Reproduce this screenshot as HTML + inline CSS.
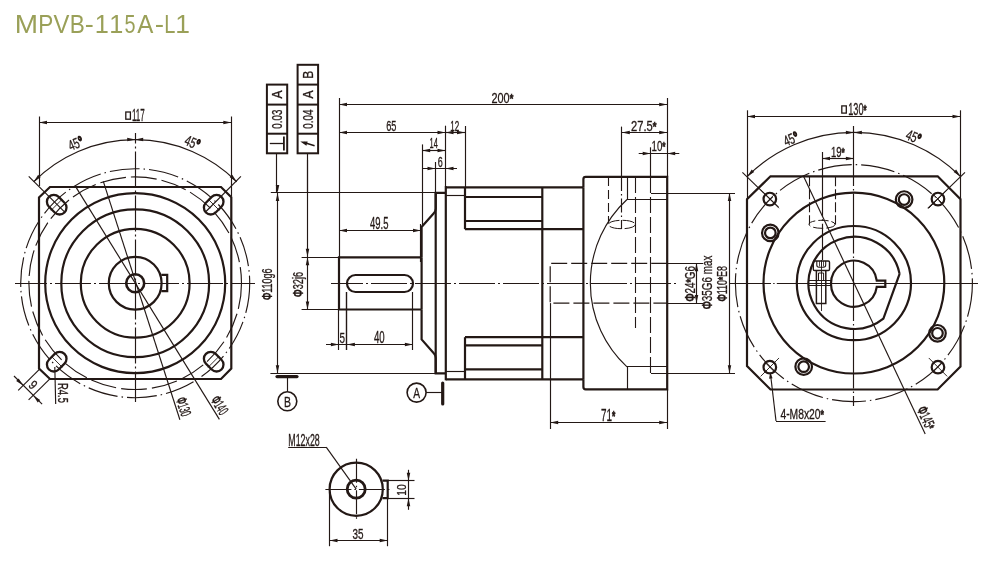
<!DOCTYPE html>
<html><head><meta charset="utf-8"><style>
html,body{margin:0;padding:0;background:#fff;}
svg{display:block;will-change:transform;}
text{font-family:"Liberation Sans",sans-serif;fill:#231815;stroke:#231815;stroke-width:0.3px;}
</style></head><body>
<svg width="999" height="577" viewBox="0 0 999 577" stroke="#231815" fill="none">
<rect width="999" height="577" fill="#fff" stroke="none"/>
<g><text transform="translate(17.1,32.7) scale(1.092,1)" x="-2.1" y="0" font-size="25.6" style="fill:#9aa058;stroke:none">M</text><text transform="translate(40,32.7) scale(0.881,1)" x="-2.1" y="0" font-size="25.6" style="fill:#9aa058;stroke:none">P</text><text transform="translate(53.5,32.7) scale(0.932,1)" x="-0.11" y="0" font-size="25.6" style="fill:#9aa058;stroke:none">V</text><text transform="translate(71.6,32.7) scale(0.881,1)" x="-2.1" y="0" font-size="25.6" style="fill:#9aa058;stroke:none">B</text><text transform="translate(86,32.7) scale(1.056,1)" x="-1.14" y="0" font-size="25.6" style="fill:#9aa058;stroke:none">-</text><text transform="translate(96.8,32.7) scale(0.988,1)" x="-1.95" y="0" font-size="25.6" style="fill:#9aa058;stroke:none">1</text><text transform="translate(111.3,32.7) scale(0.988,1)" x="-1.95" y="0" font-size="25.6" style="fill:#9aa058;stroke:none">1</text><text transform="translate(125.3,32.7) scale(0.774,1)" x="-1.03" y="0" font-size="25.6" style="fill:#9aa058;stroke:none">5</text><text transform="translate(137.3,32.7) scale(0.943,1)" x="-0.05" y="0" font-size="25.6" style="fill:#9aa058;stroke:none">A</text><text transform="translate(155.9,32.7) scale(1.088,1)" x="-1.14" y="0" font-size="25.6" style="fill:#9aa058;stroke:none">-</text><text transform="translate(165.9,32.7) scale(0.780,1)" x="-2.1" y="0" font-size="25.6" style="fill:#9aa058;stroke:none">L</text><text transform="translate(177.3,32.7) scale(1.033,1)" x="-1.95" y="0" font-size="25.6" style="fill:#9aa058;stroke:none">1</text></g>
<path d="M50,187 H221 L231.3,197.3 V368.5 L221,379 H50 L39,368.5 V197.5 Z" stroke-width="2.2" fill="none"/>
<circle cx="135.2" cy="283.2" r="90" stroke-width="2.2" fill="none"/>
<circle cx="135.2" cy="283.2" r="73.9" stroke-width="2.2" fill="none"/>
<circle cx="135.2" cy="283.2" r="54.4" stroke-width="2.2" fill="none"/>
<circle cx="135.2" cy="283.2" r="26.4" stroke-width="2.2" fill="none"/>
<circle cx="135.2" cy="283.2" r="9" stroke-width="2.6" fill="none"/>
<path d="M161.3,274.8 H167.2 V291.2 H161.3" stroke-width="2.2" fill="none"/>
<circle cx="135.2" cy="283.2" r="114.5" stroke-width="1.15" fill="none" stroke-dasharray="30 4 1.5 4"/>
<circle cx="135.2" cy="283.2" r="106.3" stroke-width="1.15" fill="none" stroke-dasharray="26 5"/>
<rect x="-11" y="-6.9" width="22" height="13.8" rx="6.9" fill="none" stroke-width="2.3" transform="translate(213.69,361.69) rotate(45)"/>
<line x1="208.03" y1="367.35" x2="219.35" y2="356.03" stroke-width="0.9"/>
<rect x="-11" y="-6.9" width="22" height="13.8" rx="6.9" fill="none" stroke-width="2.3" transform="translate(56.71,361.69) rotate(135)"/>
<line x1="51.05" y1="356.03" x2="62.37" y2="367.35" stroke-width="0.9"/>
<rect x="-11" y="-6.9" width="22" height="13.8" rx="6.9" fill="none" stroke-width="2.3" transform="translate(56.71,204.71) rotate(225)"/>
<line x1="62.37" y1="199.05" x2="51.05" y2="210.37" stroke-width="0.9"/>
<rect x="-11" y="-6.9" width="22" height="13.8" rx="6.9" fill="none" stroke-width="2.3" transform="translate(213.69,204.71) rotate(315)"/>
<line x1="219.35" y1="210.37" x2="208.03" y2="199.05" stroke-width="0.9"/>
<line x1="15" y1="283.5" x2="255" y2="283.5" stroke-width="1.15" stroke-dasharray="36 3 2 3" stroke-dashoffset="4"/>
<line x1="135.5" y1="133" x2="135.5" y2="402" stroke-width="1.15" stroke-dasharray="36 3 2 3" stroke-dashoffset="25.6"/>
<line x1="75.2" y1="185.9" x2="219.4" y2="419.4" stroke-width="1.15"/>
<line x1="103.3" y1="181.4" x2="179.9" y2="419.8" stroke-width="1.15"/>
<text transform="translate(219.7,405.3) rotate(58.3)" x="-9.5" y="5.15" font-size="15.25" textLength="19" lengthAdjust="spacingAndGlyphs"><tspan font-weight="bold">Φ</tspan>140</text>
<text transform="translate(183.5,406.7) rotate(72.2)" x="-9.5" y="5.15" font-size="15.25" textLength="19" lengthAdjust="spacingAndGlyphs"><tspan font-weight="bold">Φ</tspan>130</text>
<line x1="39.5" y1="116.5" x2="39.5" y2="186" stroke-width="1.15"/>
<line x1="231.5" y1="116.5" x2="231.5" y2="196" stroke-width="1.15"/>
<line x1="39" y1="122.5" x2="231.3" y2="122.5" stroke-width="1.15"/>
<path d="M39,122.5 L47,120.75 L47,124.25 Z" fill="#231815" stroke="none"/>
<path d="M231.3,122.5 L223.3,124.25 L223.3,120.75 Z" fill="#231815" stroke="none"/>
<rect x="125.8" y="112" width="4.6" height="7.2" fill="none" stroke-width="1.3"/>
<text transform="translate(138.4,115.5)" x="-6.4" y="5.3" font-size="15.69" textLength="12.8" lengthAdjust="spacingAndGlyphs">117</text>
<path d="M33.73,181.73 A143.5,143.5 0 0 1 236.67,181.73" stroke-width="1.15" fill="none"/>
<path d="M135.2,139.5 L127.2,141.25 L127.2,137.75 Z" fill="#231815" stroke="none"/>
<path d="M135.2,139.5 L143.2,137.75 L143.2,141.25 Z" fill="#231815" stroke="none"/>
<path d="M236.67,181.73 L229.78,177.31 L232.25,174.84 Z" fill="#231815" stroke="none"/>
<path d="M33.73,181.73 L38.15,174.84 L40.62,177.31 Z" fill="#231815" stroke="none"/>
<line x1="206" y1="211.5" x2="240.9" y2="176.3" stroke-width="1.15"/>
<line x1="64.5" y1="211.9" x2="28.7" y2="176.3" stroke-width="1.15"/>
<text transform="translate(75.7,143.6) rotate(-22.5)" x="-7.5" y="5" font-size="14.8" textLength="15" lengthAdjust="spacingAndGlyphs">45<tspan font-weight="bold" style="stroke-width:1.4px">°</tspan></text>
<text transform="translate(192.3,142.6) rotate(22.5)" x="-7.5" y="5" font-size="14.8" textLength="15" lengthAdjust="spacingAndGlyphs">45<tspan font-weight="bold" style="stroke-width:1.4px">°</tspan></text>
<line x1="39.6" y1="369.2" x2="18.2" y2="390.4" stroke-width="1.15"/>
<line x1="49.6" y1="379.2" x2="28.6" y2="399.9" stroke-width="1.15"/>
<line x1="14" y1="376" x2="42.1" y2="404.1" stroke-width="1.15"/>
<path d="M23.1,385.4 L16.21,380.98 L18.68,378.51 Z" fill="#231815" stroke="none"/>
<path d="M33.3,395.5 L40.19,399.92 L37.72,402.39 Z" fill="#231815" stroke="none"/>
<text transform="translate(33,385) rotate(45)" x="-3" y="4.5" font-size="13.32" textLength="6" lengthAdjust="spacingAndGlyphs">9</text>
<line x1="54.8" y1="367" x2="55.7" y2="404" stroke-width="1.15"/>
<text transform="translate(62.5,393) rotate(90)" x="-10" y="5" font-size="14.8" textLength="20" lengthAdjust="spacingAndGlyphs">R4.5</text>
<path d="M421.6,257.3 H339 V309.5 H421.6" stroke-width="2.2" fill="none"/>
<rect x="347" y="275" width="66" height="17" rx="8.5" fill="none" stroke-width="2.2"/>
<line x1="331" y1="283.5" x2="676" y2="283.5" stroke-width="1.15" stroke-dasharray="36 3 2 3" stroke-dashoffset="4"/>
<path d="M421.6,257.3 V227 L433.8,213.2 Q435.7,211.2 435.7,208.5 V192.9 H445.8" stroke-width="2.2" fill="none"/>
<line x1="420.5" y1="224" x2="420.5" y2="262" stroke-width="1.15"/>
<line x1="421.6" y1="257.3" x2="421.6" y2="309.5" stroke-width="2.2"/>
<path d="M421.6,309.5 V339.4 L433.8,353.2 Q435.7,355.2 435.7,357.9 V373.4 H445.8" stroke-width="2.2" fill="none"/>
<line x1="435.7" y1="192.9" x2="435.7" y2="373.4" stroke-width="2.2"/>
<line x1="445.8" y1="186.2" x2="445.8" y2="380.3" stroke-width="2.2"/>
<line x1="445.8" y1="187.3" x2="583.4" y2="187.3" stroke-width="2.2"/>
<line x1="445.8" y1="379.3" x2="583.4" y2="379.3" stroke-width="2.2"/>
<line x1="445.8" y1="195.5" x2="465" y2="195.5" stroke-width="1.15"/>
<line x1="445.8" y1="371.5" x2="465" y2="371.5" stroke-width="1.15"/>
<line x1="465" y1="187.3" x2="465" y2="229.2" stroke-width="2.2"/>
<line x1="465" y1="337.2" x2="465" y2="379.3" stroke-width="2.2"/>
<line x1="465" y1="229.2" x2="583.4" y2="229.2" stroke-width="2.2"/>
<line x1="465" y1="337.2" x2="583.4" y2="337.2" stroke-width="2.2"/>
<line x1="465" y1="197" x2="542.3" y2="197" stroke-width="2.2"/>
<line x1="465" y1="221" x2="542.3" y2="221" stroke-width="2.2"/>
<line x1="465" y1="345.3" x2="542.3" y2="345.3" stroke-width="2.2"/>
<line x1="465" y1="369.4" x2="542.3" y2="369.4" stroke-width="2.2"/>
<line x1="542.3" y1="187.3" x2="542.3" y2="379.3" stroke-width="2.2"/>
<path d="M583.4,379.3 V387 Q583.4,389.3 585.7,389.3 H667.2 V176.8 H585.7 Q583.4,176.8 583.4,179.1 V187.3" stroke-width="2.2" fill="none"/>
<line x1="583.4" y1="187.3" x2="583.4" y2="379.3" stroke-width="2.2"/>
<path d="M627,199.5 A113.9,113.9 0 0 0 627,366.9" stroke-width="1.15" fill="none"/>
<line x1="627.5" y1="176.8" x2="627.5" y2="199.5" stroke-width="1.15"/>
<line x1="627.5" y1="366.9" x2="627.5" y2="389.3" stroke-width="1.15"/>
<line x1="627" y1="199.5" x2="667.2" y2="199.5" stroke-width="1.15"/>
<line x1="627" y1="366.5" x2="667.2" y2="366.5" stroke-width="1.15"/>
<line x1="608.5" y1="177" x2="608.5" y2="223" stroke-width="1.1" stroke-dasharray="9 4"/>
<line x1="635.5" y1="177" x2="635.5" y2="328" stroke-width="1.1" stroke-dasharray="16 4"/>
<line x1="650.5" y1="177" x2="650.5" y2="373.2" stroke-width="1.1" stroke-dasharray="16 4"/>
<line x1="621.5" y1="126.6" x2="621.5" y2="177" stroke-width="1.15"/>
<line x1="621.5" y1="177" x2="621.5" y2="229" stroke-width="1.15" stroke-dasharray="14 3 1.5 3"/>
<ellipse cx="621.8" cy="224.5" rx="13.5" ry="4.2" stroke-width="1.0" fill="none" stroke-dasharray="12 3"/>
<path d="M667.2,263.3 H550.2 V303.1 H667.2" stroke-width="1.2" fill="none" stroke-dasharray="16 4"/>
<line x1="667.2" y1="263.5" x2="703.3" y2="263.5" stroke-width="1.15"/>
<line x1="667.2" y1="303.5" x2="703.3" y2="303.5" stroke-width="1.15"/>
<line x1="651" y1="193.5" x2="735" y2="193.5" stroke-width="1.15"/>
<line x1="651" y1="373.5" x2="735" y2="373.5" stroke-width="1.15"/>
<line x1="550.5" y1="303.1" x2="550.5" y2="429" stroke-width="1.15"/>
<line x1="667.5" y1="389.3" x2="667.5" y2="429" stroke-width="1.15"/>
<line x1="270.8" y1="192.5" x2="435.7" y2="192.5" stroke-width="1.15"/>
<line x1="270.4" y1="373.5" x2="435.7" y2="373.5" stroke-width="1.15"/>
<line x1="277.5" y1="192.9" x2="277.5" y2="373.3" stroke-width="1.15"/>
<path d="M277.5,192.9 L279.25,200.9 L275.75,200.9 Z" fill="#231815" stroke="none"/>
<path d="M277.5,373.3 L275.75,365.3 L279.25,365.3 Z" fill="#231815" stroke="none"/>
<text transform="translate(267.6,284.3) rotate(-90)" x="-15.75" y="4.75" font-size="14.06" textLength="31.5" lengthAdjust="spacingAndGlyphs"><tspan font-weight="bold">Φ</tspan>110g6</text>
<line x1="301.6" y1="257.5" x2="339" y2="257.5" stroke-width="1.15"/>
<line x1="301.6" y1="309.5" x2="339" y2="309.5" stroke-width="1.15"/>
<line x1="307.5" y1="160" x2="307.5" y2="309.5" stroke-width="1.15"/>
<path d="M307.5,257.3 L309.25,265.3 L305.75,265.3 Z" fill="#231815" stroke="none"/>
<path d="M307.5,309.5 L305.75,301.5 L309.25,301.5 Z" fill="#231815" stroke="none"/>
<text transform="translate(297.9,284.4) rotate(-90)" x="-12.6" y="4.75" font-size="14.06" textLength="25.2" lengthAdjust="spacingAndGlyphs"><tspan font-weight="bold">Φ</tspan>32j6</text>
<path d="M307.5,256.8 L305.75,248.8 L309.25,248.8 Z" fill="#231815" stroke="none"/>
<path d="M277.5,192.9 L275.75,184.9 L279.25,184.9 Z" fill="#231815" stroke="none"/>
<rect x="266.9" y="84.6" width="20.30000000000001" height="68.70000000000002" fill="none" stroke-width="2"/>
<line x1="266.9" y1="104.6" x2="287.2" y2="104.6" stroke-width="2"/>
<line x1="266.9" y1="133.7" x2="287.2" y2="133.7" stroke-width="2"/>
<text transform="translate(277.05,94.6) rotate(-90)" x="-4" y="4.75" font-size="14.06" textLength="8" lengthAdjust="spacingAndGlyphs">A</text>
<text transform="translate(277.05,119.15) rotate(-90)" x="-9.5" y="4.75" font-size="14.06" textLength="19" lengthAdjust="spacingAndGlyphs">0.03</text>
<rect x="297.6" y="64.8" width="20.5" height="88.50000000000001" fill="none" stroke-width="2"/>
<line x1="297.6" y1="84.6" x2="318.1" y2="84.6" stroke-width="2"/>
<line x1="297.6" y1="104.6" x2="318.1" y2="104.6" stroke-width="2"/>
<line x1="297.6" y1="133.7" x2="318.1" y2="133.7" stroke-width="2"/>
<text transform="translate(307.85,74.7) rotate(-90)" x="-4" y="4.75" font-size="14.06" textLength="8" lengthAdjust="spacingAndGlyphs">B</text>
<text transform="translate(307.85,94.6) rotate(-90)" x="-4" y="4.75" font-size="14.06" textLength="8" lengthAdjust="spacingAndGlyphs">A</text>
<text transform="translate(307.85,119.15) rotate(-90)" x="-9.5" y="4.75" font-size="14.06" textLength="19" lengthAdjust="spacingAndGlyphs">0.04</text>
<line x1="276.5" y1="153.3" x2="276.5" y2="192.9" stroke-width="1.15"/>
<line x1="307.5" y1="153.3" x2="307.5" y2="192.9" stroke-width="1.15"/>
<line x1="283.9" y1="136.4" x2="283.9" y2="150.4" stroke-width="1.8"/>
<line x1="269.8" y1="143.5" x2="283.9" y2="143.5" stroke-width="1.3"/>
<line x1="314.6" y1="145.8" x2="304" y2="142.6" stroke-width="1.6"/>
<path d="M300.3,141.6 L307.64,141.47 L306.39,145.69 Z" fill="#231815" stroke="none"/>
<line x1="339.5" y1="98" x2="339.5" y2="257.3" stroke-width="1.15"/>
<line x1="667.5" y1="98" x2="667.5" y2="176.8" stroke-width="1.15"/>
<line x1="339" y1="104.5" x2="667.2" y2="104.5" stroke-width="1.15"/>
<path d="M339,104.5 L347,102.75 L347,106.25 Z" fill="#231815" stroke="none"/>
<path d="M667.2,104.5 L659.2,106.25 L659.2,102.75 Z" fill="#231815" stroke="none"/>
<text transform="translate(502.4,97.5)" x="-10.9" y="5" font-size="14.8" textLength="21.8" lengthAdjust="spacingAndGlyphs">200<tspan font-weight="bold" font-size="85%" style="stroke-width:0.6px">*</tspan></text>
<line x1="445.5" y1="125.7" x2="445.5" y2="187.3" stroke-width="1.15"/>
<line x1="465.5" y1="126" x2="465.5" y2="187.3" stroke-width="1.15"/>
<line x1="339" y1="132.5" x2="445.5" y2="132.5" stroke-width="1.15"/>
<path d="M339,132.5 L347,130.75 L347,134.25 Z" fill="#231815" stroke="none"/>
<path d="M445.5,132.5 L437.5,134.25 L437.5,130.75 Z" fill="#231815" stroke="none"/>
<text transform="translate(391.3,125.35)" x="-5.1" y="5.15" font-size="15.25" textLength="10.2" lengthAdjust="spacingAndGlyphs">65</text>
<line x1="445.5" y1="132.5" x2="465" y2="132.5" stroke-width="1.15"/>
<path d="M445.5,132.5 L453.5,130.75 L453.5,134.25 Z" fill="#231815" stroke="none"/>
<path d="M465,132.5 L457,134.25 L457,130.75 Z" fill="#231815" stroke="none"/>
<text transform="translate(454.8,125.4)" x="-4.5" y="5.1" font-size="15.1" textLength="9" lengthAdjust="spacingAndGlyphs">12</text>
<line x1="422.5" y1="144.4" x2="422.5" y2="225.5" stroke-width="1.15"/>
<line x1="422.2" y1="150.5" x2="445.5" y2="150.5" stroke-width="1.15"/>
<path d="M422.2,150.5 L430.2,148.75 L430.2,152.25 Z" fill="#231815" stroke="none"/>
<path d="M445.5,150.5 L437.5,152.25 L437.5,148.75 Z" fill="#231815" stroke="none"/>
<text transform="translate(433.65,143.1)" x="-4.15" y="4.9" font-size="14.51" textLength="8.3" lengthAdjust="spacingAndGlyphs">14</text>
<line x1="435.5" y1="162" x2="435.5" y2="192.9" stroke-width="1.15"/>
<line x1="422" y1="168.5" x2="457" y2="168.5" stroke-width="1.15"/>
<path d="M435.5,168.5 L427.5,170.25 L427.5,166.75 Z" fill="#231815" stroke="none"/>
<path d="M445.5,168.5 L453.5,166.75 L453.5,170.25 Z" fill="#231815" stroke="none"/>
<text transform="translate(440.3,161.75)" x="-2.5" y="4.85" font-size="14.36" textLength="5" lengthAdjust="spacingAndGlyphs">6</text>
<line x1="339" y1="230.5" x2="421" y2="230.5" stroke-width="1.15"/>
<path d="M339,230.5 L347,228.75 L347,232.25 Z" fill="#231815" stroke="none"/>
<path d="M421,230.5 L413,232.25 L413,228.75 Z" fill="#231815" stroke="none"/>
<text transform="translate(379.2,223.5)" x="-9.2" y="5.5" font-size="16.28" textLength="18.4" lengthAdjust="spacingAndGlyphs">49.5</text>
<line x1="338.5" y1="309.5" x2="338.5" y2="350" stroke-width="1.15"/>
<line x1="346.5" y1="292" x2="346.5" y2="350" stroke-width="1.4"/>
<line x1="412.5" y1="292" x2="412.5" y2="350" stroke-width="1.15"/>
<line x1="326" y1="344.5" x2="413" y2="344.5" stroke-width="1.15"/>
<path d="M338.9,344.5 L330.9,346.25 L330.9,342.75 Z" fill="#231815" stroke="none"/>
<path d="M346.9,344.5 L354.9,342.75 L354.9,346.25 Z" fill="#231815" stroke="none"/>
<path d="M412.9,344.5 L404.9,346.25 L404.9,342.75 Z" fill="#231815" stroke="none"/>
<text transform="translate(342.25,337.25)" x="-2.75" y="5.25" font-size="15.54" textLength="5.5" lengthAdjust="spacingAndGlyphs">5</text>
<text transform="translate(379.35,337.15)" x="-5.35" y="5.35" font-size="15.84" textLength="10.7" lengthAdjust="spacingAndGlyphs">40</text>
<line x1="621.8" y1="132.5" x2="667.2" y2="132.5" stroke-width="1.15"/>
<path d="M621.8,132.5 L629.8,130.75 L629.8,134.25 Z" fill="#231815" stroke="none"/>
<path d="M667.2,132.5 L659.2,134.25 L659.2,130.75 Z" fill="#231815" stroke="none"/>
<text transform="translate(643.75,125.75)" x="-12.75" y="5.25" font-size="15.54" textLength="25.5" lengthAdjust="spacingAndGlyphs">27.5<tspan font-weight="bold" font-size="85%" style="stroke-width:0.6px">*</tspan></text>
<line x1="650.5" y1="147.3" x2="650.5" y2="177" stroke-width="1.15"/>
<line x1="638.7" y1="153.5" x2="679.3" y2="153.5" stroke-width="1.15"/>
<path d="M650.7,153.5 L642.7,155.25 L642.7,151.75 Z" fill="#231815" stroke="none"/>
<path d="M667.2,153.5 L675.2,151.75 L675.2,155.25 Z" fill="#231815" stroke="none"/>
<text transform="translate(658.5,145.75)" x="-7" y="5.25" font-size="15.54" textLength="14" lengthAdjust="spacingAndGlyphs">10<tspan font-weight="bold" font-size="85%" style="stroke-width:0.6px">*</tspan></text>
<line x1="550.2" y1="422.5" x2="667.2" y2="422.5" stroke-width="1.15"/>
<path d="M550.2,422.5 L558.2,420.75 L558.2,424.25 Z" fill="#231815" stroke="none"/>
<path d="M667.2,422.5 L659.2,424.25 L659.2,420.75 Z" fill="#231815" stroke="none"/>
<text transform="translate(608.15,415.1)" x="-7.15" y="5.5" font-size="16.28" textLength="14.3" lengthAdjust="spacingAndGlyphs">71<tspan font-weight="bold" font-size="85%" style="stroke-width:0.6px">*</tspan></text>
<line x1="696.5" y1="263.3" x2="696.5" y2="303.1" stroke-width="1.15"/>
<path d="M696.5,263.3 L698.25,271.3 L694.75,271.3 Z" fill="#231815" stroke="none"/>
<path d="M696.5,303.1 L694.75,295.1 L698.25,295.1 Z" fill="#231815" stroke="none"/>
<text transform="translate(689.8,283.8) rotate(-90)" x="-17.75" y="4.9" font-size="14.51" textLength="35.5" lengthAdjust="spacingAndGlyphs"><tspan font-weight="bold">Φ</tspan>24<tspan font-weight="bold" font-size="85%" style="stroke-width:0.6px">*</tspan>G6</text>
<text transform="translate(706.8,282.5) rotate(-90)" x="-26.85" y="5" font-size="14.8" textLength="53.7" lengthAdjust="spacingAndGlyphs"><tspan font-weight="bold">Φ</tspan>35G6 max</text>
<line x1="729.5" y1="193.1" x2="729.5" y2="373.2" stroke-width="1.15"/>
<path d="M729.5,193.1 L731.25,201.1 L727.75,201.1 Z" fill="#231815" stroke="none"/>
<path d="M729.5,373.2 L727.75,365.2 L731.25,365.2 Z" fill="#231815" stroke="none"/>
<text transform="translate(722,283.8) rotate(-90)" x="-17.75" y="4.9" font-size="14.51" textLength="35.5" lengthAdjust="spacingAndGlyphs"><tspan font-weight="bold">Φ</tspan>110<tspan font-weight="bold" font-size="85%" style="stroke-width:0.6px">*</tspan>E8</text>
<line x1="277" y1="376.6" x2="297" y2="376.6" stroke-width="3.2" stroke-linecap="round"/>
<line x1="287.5" y1="376.6" x2="287.5" y2="391.8" stroke-width="1.15"/>
<circle cx="287.3" cy="401.3" r="9.5" stroke-width="1.6" fill="none"/>
<text transform="translate(287.5,401.25)" x="-3.5" y="5.25" font-size="15.54" textLength="7" lengthAdjust="spacingAndGlyphs">B</text>
<circle cx="416.6" cy="392.6" r="9.5" stroke-width="1.6" fill="none"/>
<text transform="translate(416.6,392.5)" x="-3.4" y="5" font-size="14.8" textLength="6.8" lengthAdjust="spacingAndGlyphs">A</text>
<line x1="426.1" y1="392.5" x2="442.7" y2="392.5" stroke-width="1.15"/>
<line x1="442.7" y1="383" x2="442.7" y2="404" stroke-width="3.2" stroke-linecap="round"/>
<path d="M770.5,176.3 H937.7 L960.5,199.3 V366.5 L937.6,389.5 H770.5 L747,366 V199.3 Z" stroke-width="2.2" fill="none"/>
<circle cx="853.9" cy="283.1" r="90.4" stroke-width="2.2" fill="none"/>
<circle cx="853.9" cy="283.1" r="57.1" stroke-width="2.2" fill="none"/>
<path d="M899.6,273.9 A46,46 0 1 0 883.4,318.7 L899.6,273.9" stroke-width="2.2" fill="none"/>
<path d="M876.76,280.6 A23,23 0 1 0 876.76,286.8 H885.3 V280.6 Z" stroke-width="2.2" fill="none"/>
<circle cx="853.9" cy="283.1" r="118.5" stroke-width="1.15" fill="none" stroke-dasharray="34 4 1.5 4"/>
<circle cx="937.97" cy="367.17" r="6.3" stroke-width="2.2" fill="none"/>
<line x1="947.17" y1="376.37" x2="928.78" y2="357.98" stroke-width="0.9"/>
<line x1="933.38" y1="371.77" x2="942.57" y2="362.58" stroke-width="0.9"/>
<circle cx="769.83" cy="367.17" r="6.3" stroke-width="2.2" fill="none"/>
<line x1="760.63" y1="376.37" x2="779.02" y2="357.98" stroke-width="0.9"/>
<line x1="765.23" y1="362.58" x2="774.42" y2="371.77" stroke-width="0.9"/>
<circle cx="769.83" cy="199.03" r="6.3" stroke-width="2.2" fill="none"/>
<line x1="760.63" y1="189.83" x2="779.02" y2="208.22" stroke-width="0.9"/>
<line x1="774.42" y1="194.43" x2="765.23" y2="203.62" stroke-width="0.9"/>
<circle cx="937.97" cy="199.03" r="6.3" stroke-width="2.2" fill="none"/>
<line x1="947.17" y1="189.83" x2="928.78" y2="208.22" stroke-width="0.9"/>
<line x1="942.57" y1="203.62" x2="933.38" y2="194.43" stroke-width="0.9"/>
<circle cx="904.12" cy="199.53" r="8.3" stroke-width="2.2" fill="none"/>
<circle cx="904.12" cy="199.53" r="5.3" stroke-width="2.2" fill="none"/>
<circle cx="937.47" cy="333.32" r="8.3" stroke-width="2.2" fill="none"/>
<circle cx="937.47" cy="333.32" r="5.3" stroke-width="2.2" fill="none"/>
<circle cx="803.68" cy="366.67" r="8.3" stroke-width="2.2" fill="none"/>
<circle cx="803.68" cy="366.67" r="5.3" stroke-width="2.2" fill="none"/>
<circle cx="770.33" cy="232.88" r="8.3" stroke-width="2.2" fill="none"/>
<circle cx="770.33" cy="232.88" r="5.3" stroke-width="2.2" fill="none"/>
<line x1="809.5" y1="176.3" x2="809.5" y2="224.5" stroke-width="1.1" stroke-dasharray="10 3"/>
<line x1="835.5" y1="176.3" x2="835.5" y2="224.5" stroke-width="1.1" stroke-dasharray="10 3"/>
<ellipse cx="822" cy="224.3" rx="13" ry="4" stroke-width="1.0" fill="none" stroke-dasharray="10 3"/>
<line x1="822.5" y1="152" x2="822.5" y2="176.3" stroke-width="1.15"/>
<line x1="822.5" y1="176.3" x2="822.5" y2="260" stroke-width="1.15" stroke-dasharray="40 3 1.5 3"/>
<line x1="821.5" y1="260" x2="821.5" y2="311" stroke-width="0.9"/>
<rect x="813.3" y="261" width="16.2" height="9.5" rx="1.2" fill="none" stroke-width="1.4"/>
<path d="M816.8,261 V265 Q816.8,267.2 819,267.2 H823.5 Q825.7,267.2 825.7,265 V261" stroke-width="1.1" fill="none"/>
<line x1="819.5" y1="261" x2="819.5" y2="266.5" stroke-width="0.8"/>
<line x1="821.5" y1="261" x2="821.5" y2="266.5" stroke-width="0.8"/>
<line x1="823.5" y1="261" x2="823.5" y2="266.5" stroke-width="0.8"/>
<path d="M816.4,270.5 V303.4 H825.8 V270.5" stroke-width="1.5" fill="none"/>
<path d="M818.5,280.8 V273 H823.6 V280.8" stroke-width="1.0" fill="none"/>
<line x1="808.5" y1="280.5" x2="831" y2="280.5" stroke-width="1.0"/>
<line x1="808.5" y1="285.5" x2="831" y2="285.5" stroke-width="1.0"/>
<line x1="729.5" y1="283.5" x2="771" y2="283.5" stroke-width="1.15"/>
<line x1="773.2" y1="283.5" x2="774.6" y2="283.5" stroke-width="1.15"/>
<line x1="776.8" y1="283.5" x2="978" y2="283.5" stroke-width="1.15"/>
<line x1="853.5" y1="126" x2="853.5" y2="406" stroke-width="1.15" stroke-dasharray="60 3 1.5 3"/>
<line x1="747.5" y1="110.3" x2="747.5" y2="199" stroke-width="1.15"/>
<line x1="960.5" y1="110.3" x2="960.5" y2="199" stroke-width="1.15"/>
<line x1="747" y1="116.5" x2="960.5" y2="116.5" stroke-width="1.15"/>
<path d="M747,116.5 L755,114.75 L755,118.25 Z" fill="#231815" stroke="none"/>
<path d="M960.5,116.5 L952.5,118.25 L952.5,114.75 Z" fill="#231815" stroke="none"/>
<rect x="841.8" y="105.9" width="4.5" height="7.2" fill="none" stroke-width="1.3"/>
<text transform="translate(857.35,109.35)" x="-9.15" y="5.45" font-size="16.14" textLength="18.3" lengthAdjust="spacingAndGlyphs">130<tspan font-weight="bold" font-size="85%" style="stroke-width:0.6px">*</tspan></text>
<path d="M747.27,176.47 A150.8,150.8 0 0 1 960.53,176.47" stroke-width="1.15" fill="none"/>
<path d="M853.9,132.5 L845.9,134.25 L845.9,130.75 Z" fill="#231815" stroke="none"/>
<path d="M853.9,132.5 L861.9,130.75 L861.9,134.25 Z" fill="#231815" stroke="none"/>
<path d="M960.53,176.47 L953.64,172.05 L956.11,169.57 Z" fill="#231815" stroke="none"/>
<path d="M747.27,176.47 L751.69,169.57 L754.16,172.05 Z" fill="#231815" stroke="none"/>
<line x1="742.4" y1="172.3" x2="778.5" y2="207.2" stroke-width="1.15"/>
<line x1="965" y1="172.3" x2="927.8" y2="208.3" stroke-width="1.15"/>
<text transform="translate(791,139) rotate(-22.5)" x="-7.5" y="5" font-size="14.8" textLength="15" lengthAdjust="spacingAndGlyphs">45<tspan font-weight="bold" style="stroke-width:1.4px">°</tspan></text>
<text transform="translate(913.5,137) rotate(22.5)" x="-7.5" y="5" font-size="14.8" textLength="15" lengthAdjust="spacingAndGlyphs">45<tspan font-weight="bold" style="stroke-width:1.4px">°</tspan></text>
<line x1="822" y1="158.5" x2="853.9" y2="158.5" stroke-width="1.15"/>
<path d="M822,158.5 L830,156.75 L830,160.25 Z" fill="#231815" stroke="none"/>
<path d="M853.9,158.5 L845.9,160.25 L845.9,156.75 Z" fill="#231815" stroke="none"/>
<text transform="translate(837.9,151.7)" x="-6.9" y="4.9" font-size="14.51" textLength="13.8" lengthAdjust="spacingAndGlyphs">19<tspan font-weight="bold" font-size="85%" style="stroke-width:0.6px">*</tspan></text>
<line x1="803.3" y1="175.7" x2="925.2" y2="434" stroke-width="1.15"/>
<text transform="translate(926.2,418) rotate(64.7)" x="-11.75" y="5.25" font-size="15.54" textLength="23.5" lengthAdjust="spacingAndGlyphs"><tspan font-weight="bold">Φ</tspan>145<tspan font-weight="bold" font-size="85%" style="stroke-width:0.6px">*</tspan></text>
<line x1="770.5" y1="374" x2="776" y2="421" stroke-width="1.15"/>
<line x1="776" y1="421.5" x2="825.6" y2="421.5" stroke-width="1.15"/>
<path d="M770.2,372.5 L772.57,378.28 L769.09,378.65 Z" fill="#231815" stroke="none"/>
<text transform="translate(802.2,413.9)" x="-21.8" y="5" font-size="14.8" textLength="43.6" lengthAdjust="spacingAndGlyphs">4-M8x20<tspan font-weight="bold" font-size="85%" style="stroke-width:0.6px">*</tspan></text>
<circle cx="356.2" cy="489.2" r="26.6" stroke-width="2.2" fill="none"/>
<circle cx="356.2" cy="489.2" r="9" stroke-width="2.8" fill="none"/>
<path d="M382.4,480.7 H387.7 V498.2 H382.4" stroke-width="2.2" fill="none"/>
<line x1="325.4" y1="489.5" x2="391.4" y2="489.5" stroke-width="1.15" stroke-dasharray="26 3 1.5 3"/>
<line x1="356.5" y1="458.8" x2="356.5" y2="520.7" stroke-width="1.15" stroke-dasharray="24 3 1.5 3"/>
<line x1="356.2" y1="489.2" x2="326.2" y2="447.2" stroke-width="1.15"/>
<line x1="326.2" y1="447.5" x2="288.2" y2="447.5" stroke-width="1.15"/>
<text transform="translate(304.05,440.25)" x="-15.75" y="5.35" font-size="15.84" textLength="31.5" lengthAdjust="spacingAndGlyphs">M12x28</text>
<line x1="388" y1="480.5" x2="414.5" y2="480.5" stroke-width="1.15"/>
<line x1="388" y1="498.5" x2="414.5" y2="498.5" stroke-width="1.15"/>
<line x1="408.5" y1="469.8" x2="408.5" y2="509.8" stroke-width="1.15"/>
<path d="M408.5,480.7 L406.75,472.7 L410.25,472.7 Z" fill="#231815" stroke="none"/>
<path d="M408.5,498.2 L410.25,506.2 L406.75,506.2 Z" fill="#231815" stroke="none"/>
<text transform="translate(401.8,490) rotate(-90)" x="-5.7" y="4.5" font-size="13.32" textLength="11.4" lengthAdjust="spacingAndGlyphs">10</text>
<line x1="329.5" y1="492" x2="329.5" y2="546.2" stroke-width="1.15"/>
<line x1="387.5" y1="498.2" x2="387.5" y2="546.2" stroke-width="1.15"/>
<line x1="329.5" y1="540.5" x2="387.7" y2="540.5" stroke-width="1.15"/>
<path d="M329.5,540.5 L337.5,538.75 L337.5,542.25 Z" fill="#231815" stroke="none"/>
<path d="M387.7,540.5 L379.7,542.25 L379.7,538.75 Z" fill="#231815" stroke="none"/>
<text transform="translate(358,534.1)" x="-5.5" y="4.9" font-size="14.51" textLength="11" lengthAdjust="spacingAndGlyphs">35</text>
</svg></body></html>
